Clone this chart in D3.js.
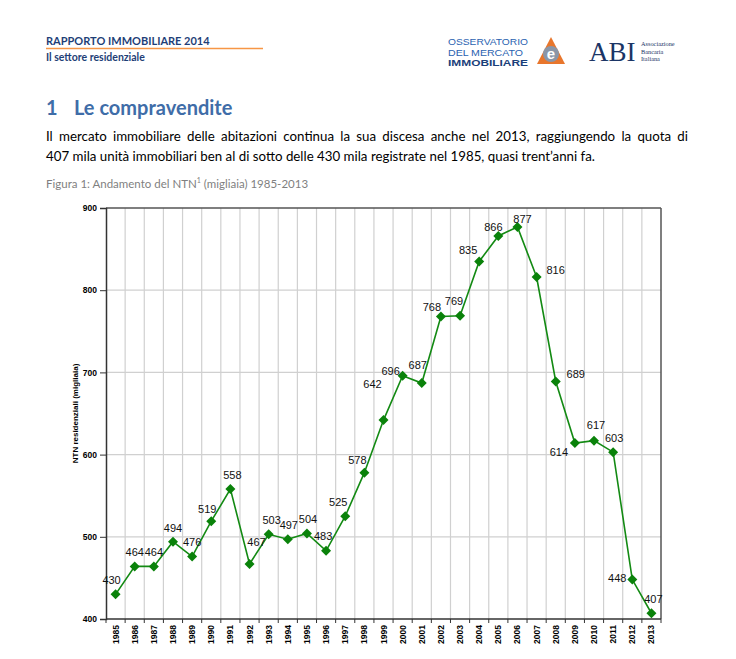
<!DOCTYPE html>
<html><head><meta charset="utf-8">
<script src="https://cdn.jsdelivr.net/npm/d3@7"></script>
<style>
html,body{margin:0;padding:0;background:#fff;}
svg{display:block;}
</style></head>
<body>
<svg id="page" width="736" height="659"></svg>
<script>
// ---- data ----
const years = ["1985","1986","1987","1988","1989","1990","1991","1992","1993","1994","1995","1996","1997","1998","1999","2000","2001","2002","2003","2004","2005","2006","2007","2008","2009","2010","2011","2012","2013"];
const ntn = [430,464,464,494,476,519,558,467,503,497,504,483,525,578,642,696,687,768,769,835,866,877,816,689,614,617,603,448,407];
const yTicks = [400,500,600,700,800,900];
const yLabel = "NTN residenziali (migliaia)";
// label nudges (annotation layout, px: dx, dy from the marker)
const labelNudge = [[-4,-14],[0,-14],[0,-14],[0,-14],[0,-14],[-4,-12],[2,-14],[7,-22],[3,-14],[1,-14],[1,-14],[-3,-15],[-7,-14],[-7,-13],[-11,-36],[-12,-5],[-4,-18],[-9,-9],[-6,-15],[-11,-11],[-5,-9],[5,-8],[19,-7],[20,-7],[-16,9],[2,-15],[1,-14],[-15,-1],[2,-14]];

const svg = d3.select("#page");
const sans = "'Liberation Sans', Arial, sans-serif";
const cal = "Lato, 'Open Sans', sans-serif";

// ---- header ----
svg.append("text").attr("x",46).attr("y",45).attr("font-family",cal).attr("font-weight","bold")
  .attr("font-size",11).attr("fill","#1f3f77").text("RAPPORTO IMMOBILIARE 2014");
svg.append("line").attr("x1",46).attr("x2",263).attr("y1",48.5).attr("y2",48.5)
  .attr("stroke","#f79646").attr("stroke-width",1.5);
svg.append("text").attr("x",46).attr("y",61).attr("font-family",cal).attr("font-weight","bold")
  .attr("font-size",10.5).attr("fill","#1f3f77").text("Il settore residenziale");

// OMI logo
const omi = svg.append("g").attr("font-family","'Liberation Sans Narrow','Liberation Sans',Arial,sans-serif");
omi.append("text").attr("x",448).attr("y",45).attr("font-size",9).attr("fill","#2a62b0")
  .attr("textLength",80).attr("lengthAdjust","spacingAndGlyphs").text("OSSERVATORIO");
omi.append("text").attr("x",448).attr("y",55.5).attr("font-size",9).attr("fill","#2a62b0")
  .attr("textLength",75).attr("lengthAdjust","spacingAndGlyphs").text("DEL MERCATO");
omi.append("text").attr("x",448).attr("y",66).attr("font-size",9).attr("font-weight","bold").attr("fill","#1b3f7a")
  .attr("textLength",80).attr("lengthAdjust","spacingAndGlyphs").text("IMMOBILIARE");
omi.append("path").attr("d","M537,64 L551,37 L565,64 Z").attr("fill","#e8762c");
omi.append("circle").attr("cx",551).attr("cy",54).attr("r",8).attr("fill","#8a96a8");
omi.append("text").attr("x",551).attr("y",59).attr("text-anchor","middle").attr("font-size",15)
  .attr("font-weight","bold").attr("fill","#ffffff").text("e");
// ABI logo
svg.append("text").attr("x",589).attr("y",61).attr("font-family","'Liberation Serif','DejaVu Serif',serif")
  .attr("font-size",27).attr("fill","#1b3566").text("ABI");
["Associazione","Bancaria","Italiana"].forEach((t,i)=>{
  svg.append("text").attr("x",641).attr("y",46+i*7.5).attr("font-family","'Liberation Serif',serif")
    .attr("font-size",6.3).attr("fill","#1b3566").text(t);
});

// ---- title ----
svg.append("text").attr("x",46).attr("y",115).attr("font-family",cal).attr("font-weight","bold")
  .attr("font-size",20).attr("fill","#3f6da8").text("1");
svg.append("text").attr("x",74).attr("y",115).attr("font-family",cal).attr("font-weight","bold")
  .attr("font-size",20).attr("fill","#3f6da8").text("Le compravendite");

// ---- paragraph (line 1 justified) ----
function justifyLine(str, x0, x1, y){
  const words = str.split(" ");
  const g = svg.append("g").attr("font-family",cal).attr("font-size",13.3).attr("fill","#000");
  const nodes = words.map(w=>g.append("text").attr("y",y).text(w));
  const widths = nodes.map(n=>n.node().getComputedTextLength());
  const total = d3.sum(widths);
  const gap = (x1-x0-total)/(words.length-1);
  let x = x0;
  nodes.forEach((n,i)=>{ n.attr("x",x); x += widths[i]+gap; });
}
justifyLine("Il mercato immobiliare delle abitazioni continua la sua discesa anche nel 2013, raggiungendo la quota di",46,688,141);
svg.append("text").attr("x",46).attr("y",161).attr("font-family",cal).attr("font-size",13.3).attr("fill","#000")
  .text("407 mila unità immobiliari ben al di sotto delle 430 mila registrate nel 1985, quasi trent’anni fa.");

// ---- caption ----
const cap = svg.append("text").attr("x",46).attr("y",188).attr("font-family",cal).attr("font-size",11.5).attr("fill","#7f7f7f");
cap.append("tspan").text("Figura 1: Andamento del NTN");
cap.append("tspan").attr("font-size",7).attr("dy",-5).text("1");
cap.append("tspan").attr("dy",5).text(" (migliaia) 1985-2013");

// ---- chart ----
const L=106, R=661, T=208, B=619;
const x = d3.scaleBand().domain(years).range([L,R]);
const y = d3.scaleLinear().domain([400,900]).range([B,T]);
const cx = d => x(d) + x.bandwidth()/2;

const grid = svg.append("g");
// vertical grid at band boundaries
grid.selectAll("line.v").data(years.slice(1)).join("line")
  .attr("x1",d=>x(d)).attr("x2",d=>x(d)).attr("y1",T).attr("y2",B)
  .attr("stroke","#d0d0d0").attr("stroke-width",1.2);
grid.selectAll("line.h").data(yTicks.slice(1,-1)).join("line")
  .attr("x1",L).attr("x2",R).attr("y1",d=>y(d)).attr("y2",d=>y(d))
  .attr("stroke","#d0d0d0").attr("stroke-width",1.2);

// frame top/right
svg.append("line").attr("x1",L).attr("x2",R).attr("y1",T).attr("y2",T).attr("stroke","#555").attr("stroke-width",1.5);
svg.append("line").attr("x1",R).attr("x2",R).attr("y1",T).attr("y2",B).attr("stroke","#555").attr("stroke-width",1.5);

// y axis
const yAxis = d3.axisLeft(y).tickValues(yTicks).tickSize(6).tickPadding(3);
const gy = svg.append("g").attr("transform",`translate(${L},0)`).call(yAxis);
gy.select(".domain").attr("stroke","#333").attr("stroke-width",1.5);
gy.selectAll(".tick line").attr("stroke","#333");
gy.selectAll("text").attr("font-family",sans).attr("font-size",8.5).attr("font-weight","bold").attr("fill","#000");

// x axis: ticks at band boundaries
const xb = svg.append("g").attr("transform",`translate(0,${B})`);
xb.append("line").attr("x1",L).attr("x2",R).attr("stroke","#333").attr("stroke-width",1.5);
xb.selectAll("line.t").data(years.concat(["end"])).join("line")
  .attr("x1",(d,i)=>L+i*x.step()).attr("x2",(d,i)=>L+i*x.step()).attr("y1",0).attr("y2",4)
  .attr("stroke","#333");
xb.selectAll("text").data(years).join("text")
  .attr("transform",d=>`translate(${cx(d)+3},${6}) rotate(-90)`)
  .attr("text-anchor","end").attr("font-family",sans).attr("font-size",8.5).attr("font-weight","bold")
  .attr("fill","#000").text(d=>d);

// y label
svg.append("text").attr("transform",`translate(78,${(T+B)/2}) rotate(-90)`).attr("text-anchor","middle")
  .attr("font-family",sans).attr("font-size",8).attr("font-weight","bold").attr("fill","#000").text(yLabel);

// line
const pts = years.map((d,i)=>({yr:d,v:ntn[i],i}));
svg.append("path").datum(pts).attr("fill","none").attr("stroke","#138a13").attr("stroke-width",1.6)
  .attr("d",d3.line().x(d=>cx(d.yr)).y(d=>y(d.v)));
svg.selectAll("path.mk").data(pts).join("path").attr("class","mk")
  .attr("transform",d=>`translate(${cx(d.yr)},${y(d.v)})`)
  .attr("d","M0,-5 L5,0 L0,5 L-5,0 Z").attr("fill","#0a820a");

// data labels
svg.selectAll("text.lbl").data(pts).join("text").attr("class","lbl")
  .attr("x",d=>cx(d.yr)+labelNudge[d.i][0]).attr("y",d=>y(d.v)+labelNudge[d.i][1])
  .attr("dy","0.35em").attr("text-anchor","middle").attr("font-family",sans).attr("font-size",11)
  .attr("fill","#111").text(d=>d.v);
</script>
</body></html>
